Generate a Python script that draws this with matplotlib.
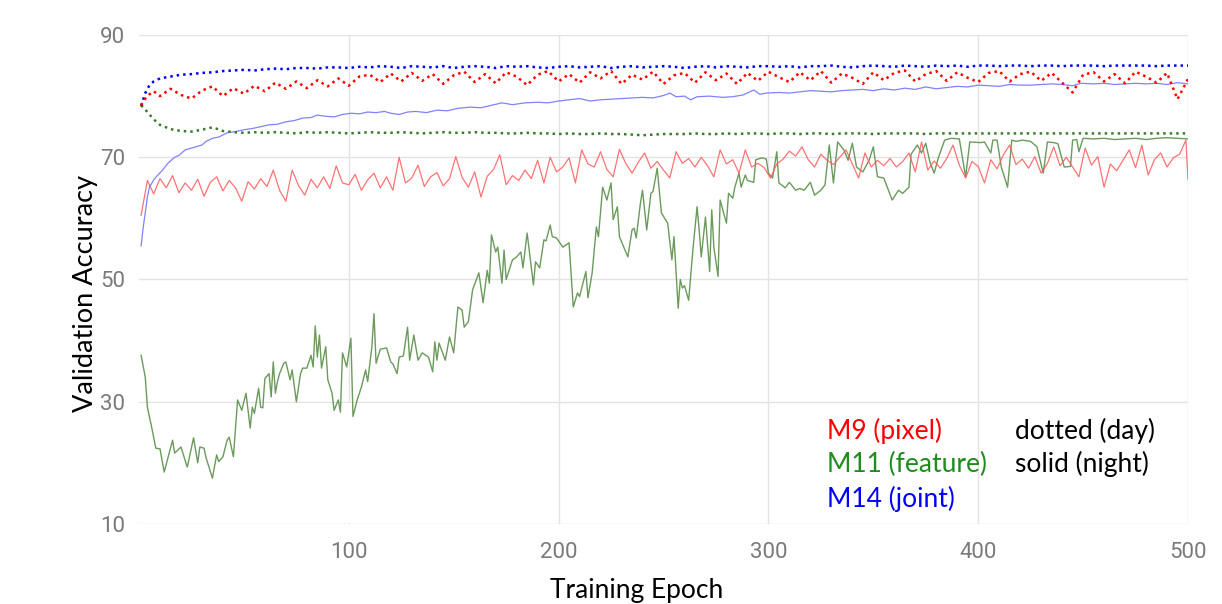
import matplotlib
matplotlib.use("Agg")
import matplotlib.pyplot as plt
from matplotlib.patches import Rectangle

# ---- data ----
DAY_EPOCHS = [1, 3, 5, 7] + list(range(10, 501, 5))

M9_DAY = [
    78.5, 79.6, 80.3, 80.8,
    80.0, 81.2, 80.2, 79.6, 80.9, 81.6, 80.0, 81.3, 80.4, 81.7,
    80.8, 82.2, 81.2, 82.4, 81.3, 82.6, 81.6, 82.9, 81.7, 83.2,
    83.5, 82.3, 83.7, 82.4, 83.8, 82.5, 83.6, 82.0, 83.4, 84.0,
    82.3, 83.6, 82.1, 83.9, 83.2, 81.8, 83.5, 84.1, 82.4, 83.6,
    82.2, 83.9, 82.9, 84.1, 82.0, 83.5, 82.7, 84.0, 82.0, 83.4,
    83.8, 82.2, 83.9, 82.6, 83.7, 82.0, 83.8, 82.5, 84.0, 83.1,
    82.3, 83.9, 82.6, 84.1, 82.2, 83.7, 83.0, 82.0, 83.9, 82.6,
    83.8, 84.2, 82.4, 83.6, 84.1, 82.5, 83.9, 83.0, 82.3, 83.8,
    84.1, 82.4, 83.6, 84.0, 82.5, 83.8, 82.2, 80.6, 83.5, 83.9,
    82.4, 83.6, 82.1, 84.0, 83.2, 82.2, 83.8, 79.5, 82.8,
]

M14_DAY = [
    78.4, 80.5, 81.8, 82.4,
    82.9, 83.2, 83.5, 83.6, 83.8, 83.9, 84.1, 84.2, 84.3, 84.2,
    84.4, 84.5, 84.4, 84.6, 84.6, 84.5, 84.7, 84.7, 84.6, 84.8,
    84.7, 84.9, 84.8, 84.6, 84.9, 84.8, 84.7, 84.9, 84.6, 84.8,
    84.9, 84.8, 84.6, 84.9, 84.8, 84.9, 84.7, 84.6, 84.8, 84.9,
    84.7, 84.8, 84.9, 84.6, 84.8, 84.9, 84.7, 84.8, 84.9, 84.8,
    84.6, 84.8, 84.9, 84.7, 84.9, 84.8, 84.7, 84.9, 84.9, 84.8,
    84.9, 84.7, 84.9, 84.9, 85.0, 84.8, 84.7, 84.9, 85.0, 84.9,
    84.8, 85.0, 84.9, 84.8, 85.0, 84.9, 85.0, 84.8, 85.0, 85.0,
    84.9, 85.0, 85.0, 84.9, 85.0, 85.0, 84.9, 85.0, 85.0, 85.0,
    84.9, 85.0, 85.0, 85.0, 85.0, 84.9, 85.0, 85.0, 85.0,
]

M11_DAY = [
    78.5, 77.8, 77.0, 76.2,
    75.3, 74.6, 74.3, 74.2, 74.5, 74.9, 74.3, 74.1, 74.0, 74.1,
    74.0, 74.1, 74.0, 73.9, 74.1, 74.0, 74.1, 74.0, 73.9, 74.0,
    74.1, 74.0, 74.0, 74.1, 74.0, 73.9, 74.0, 74.1, 74.0, 74.0,
    74.1, 74.0, 74.0, 73.9, 73.9, 74.0, 73.9, 73.9, 73.8, 73.9,
    73.8, 73.8, 73.9, 73.8, 73.8, 73.7, 73.6, 73.7, 73.8, 73.8,
    73.8, 73.9, 73.8, 73.8, 73.9, 73.8, 73.9, 73.9, 73.8, 73.9,
    73.9, 73.8, 73.9, 73.9, 73.8, 73.9, 73.9, 73.9, 73.8, 73.9,
    73.9, 73.9, 73.9, 73.8, 73.9, 73.9, 73.9, 73.9, 73.9, 73.9,
    73.9, 73.9, 73.9, 73.9, 73.9, 73.9, 73.9, 73.9, 73.9, 73.9,
    73.9, 73.9, 73.9, 73.9, 73.9, 73.9, 73.9, 73.9, 73.9,
]

M9_NIGHT_EPOCHS = list(range(1, 500, 3)) + [500]
M9_NIGHT = [
    60.5, 66.2, 64.0, 66.5, 65.0, 67.0, 64.2, 65.8, 64.6, 66.4,
    63.6, 65.9, 66.8, 64.5, 66.2, 65.0, 62.8, 66.0, 64.8, 66.5,
    65.2, 67.9, 64.6, 62.8, 67.9, 65.4, 63.8, 66.4, 65.0, 66.8,
    64.9, 68.6, 65.8, 65.5, 67.2, 64.6, 66.3, 67.4, 65.0, 66.8,
    64.6, 70.0, 65.8, 66.6, 68.7, 65.2, 66.8, 67.5, 65.3, 66.5,
    70.1, 66.7, 65.1, 67.6, 63.5, 66.9, 68.0, 70.4, 65.5, 67.0,
    66.2, 67.9, 66.5, 69.5, 65.8, 70.0, 67.6, 68.4, 69.9, 65.8,
    71.2, 68.9, 68.4, 70.9, 68.0, 66.8, 71.3, 69.0, 67.4, 69.2,
    70.7, 68.2, 69.3, 67.9, 66.6, 70.9, 69.0, 69.8, 68.4, 70.0,
    68.6, 66.8, 71.2, 68.9, 69.6, 67.4, 71.2, 68.4, 69.0, 68.3,
    66.6, 68.9, 69.7, 71.0, 70.2, 71.7, 69.6, 68.4, 70.5, 69.5,
    68.8, 70.0, 71.2, 68.9, 66.6, 70.7, 68.4, 69.5, 68.6, 69.8,
    68.4, 69.3, 70.7, 67.6, 72.5, 67.9, 69.4, 68.2, 69.8, 72.0,
    68.7, 66.6, 69.3, 68.5, 65.8, 69.6, 68.1, 70.4, 72.0, 68.8,
    69.7, 68.2, 70.1, 67.4, 69.0, 71.7, 68.6, 70.0, 68.4, 66.8,
    71.5, 68.7, 70.1, 65.1, 68.9, 67.8, 69.5, 71.2, 68.3, 72.0,
    67.1, 69.6, 70.7, 68.4, 69.9, 70.5, 72.8, 66.3,
]

M11_NIGHT_EPOCHS = [
    1, 3, 4, 6, 8, 10, 12, 16, 17, 20, 23, 26, 28, 29, 31, 32, 35, 37, 38, 40,
    42, 43, 45, 47, 49, 51, 53, 54, 55, 57, 58, 59, 60, 62, 63, 64, 65, 66, 67, 69,
    70, 72, 73, 75, 77, 78, 80, 82, 83, 84, 85, 86, 87, 89, 90, 92, 93, 95, 96, 97,
    99, 101, 102, 104, 106, 108, 109, 111, 112, 113, 115, 118, 120, 121, 123, 124, 126, 128, 129, 131,
    133, 135, 138, 140, 141, 142, 143, 146, 148, 150, 151, 152, 154, 155, 157, 159, 162, 164, 166, 167,
    168, 170, 171, 173, 174, 175, 178, 180, 182, 183, 185, 188, 189, 191, 193, 194, 196, 197, 199, 202,
    205, 207, 209, 210, 213, 214, 216, 218, 219, 221, 223, 225, 226, 228, 229, 233, 235, 236, 237, 239,
    240, 242, 244, 245, 247, 249, 252, 254, 255, 257, 258, 259, 260, 262, 264, 266, 267, 268, 270, 272,
    273, 274, 276, 277, 280, 281, 283, 284, 286, 287, 289, 290, 293, 294, 297, 299, 300, 302, 304, 305,
    308, 310, 313, 315, 317, 320, 322, 325, 327, 329, 331, 333, 336, 338, 340, 342, 345, 348, 350, 352,
    355, 359, 362, 364, 367, 368, 371, 373, 375, 377, 379, 381, 384, 387, 391, 394, 396, 401, 403, 406,
    407, 409, 411, 414, 416, 418, 421, 425, 428, 431, 433, 436, 438, 441, 444, 445, 447, 448, 450, 455,
    460, 465, 470, 475, 480, 485, 490, 495, 500,
]
M11_NIGHT = [
    37.6, 34.0, 29.1, 25.9, 22.4, 22.3, 18.5, 23.7, 21.6, 22.6, 19.3, 24.1, 20.0, 22.6, 22.4, 20.8, 17.5, 21.3, 20.2, 21.0,
    23.7, 24.2, 21.0, 30.3, 28.6, 31.4, 25.7, 29.1, 28.1, 32.2, 29.1, 29.0, 33.8, 34.6, 30.8, 36.5, 31.4, 33.3, 34.6, 36.3,
    36.5, 33.6, 35.2, 30.0, 34.6, 35.5, 35.5, 37.6, 35.7, 42.4, 37.3, 40.9, 35.5, 39.0, 33.6, 31.4, 28.6, 30.3, 28.3, 38.0,
    35.7, 40.4, 27.6, 30.3, 32.4, 35.2, 33.3, 39.0, 44.4, 36.3, 38.6, 38.8, 36.5, 36.2, 34.6, 37.3, 37.5, 42.2, 36.8, 40.9,
    36.8, 38.0, 37.3, 34.9, 39.8, 36.8, 39.6, 36.8, 40.6, 38.0, 41.7, 45.5, 45.0, 42.2, 43.1, 48.3, 51.1, 46.2, 51.5, 49.4,
    57.3, 54.5, 55.3, 49.4, 54.8, 50.0, 53.2, 53.7, 54.5, 51.9, 57.6, 49.1, 52.9, 51.9, 56.5, 56.3, 58.9, 57.0, 56.8, 55.3,
    56.0, 45.5, 47.8, 47.2, 51.3, 47.0, 51.1, 58.6, 57.0, 65.1, 63.0, 65.8, 59.8, 61.9, 57.0, 53.7, 58.1, 58.4, 56.8, 62.5,
    64.6, 58.1, 64.1, 64.4, 68.2, 60.9, 59.2, 53.2, 57.0, 45.3, 50.0, 48.6, 49.0, 46.6, 54.8, 61.9, 58.1, 53.7, 60.2, 51.3,
    61.4, 55.3, 50.5, 63.0, 59.2, 64.1, 63.3, 65.1, 67.4, 65.1, 67.1, 66.2, 65.9, 69.6, 69.9, 69.7, 67.4, 66.6, 70.9, 65.8,
    65.0, 65.9, 64.6, 64.9, 64.6, 65.9, 63.8, 64.6, 65.5, 72.0, 65.8, 72.5, 71.2, 69.5, 72.3, 68.4, 67.6, 69.5, 71.7, 66.8,
    66.6, 63.0, 64.6, 64.1, 65.1, 70.5, 72.0, 70.7, 72.3, 69.2, 67.4, 69.9, 72.8, 73.1, 73.0, 66.8, 72.5, 72.4, 72.5, 70.7,
    72.8, 72.8, 68.4, 65.1, 72.8, 72.6, 72.8, 72.6, 71.7, 67.4, 72.5, 72.4, 72.2, 68.4, 68.5, 72.8, 72.9, 70.9, 73.1, 73.0,
    73.1, 72.9, 73.0, 73.1, 72.9, 73.1, 73.2, 73.1, 73.0,
]

M14_NIGHT_EPOCHS = [
    1, 2, 3, 4, 5, 7, 9, 11, 14, 17, 19, 22, 25, 28, 30, 32, 35, 38, 42, 46,
    50, 54, 58, 62, 66, 70, 74, 78, 82, 85, 89, 93, 97, 101, 105, 109, 113, 117, 120, 124,
    128, 132, 137, 142, 147, 152, 158, 163, 168, 173, 178, 184, 190, 195, 200, 205, 210, 215, 220, 225,
    230, 235, 240, 245, 250, 253, 256, 260, 263, 266, 272, 278, 283, 288, 293, 296, 299, 305, 310, 315,
    320, 325, 330, 335, 340, 345, 350, 355, 360, 365, 370, 375, 380, 385, 390, 395, 400, 405, 410, 415,
    420, 425, 430, 435, 440, 445, 449, 455, 460, 465, 470, 475, 480, 485, 490, 495, 500,
]
M14_NIGHT = [
    55.5, 58.5, 61.0, 63.5, 65.1, 66.3, 67.1, 67.8, 69.1, 70.0, 70.3, 71.2, 71.5, 71.8, 72.0, 72.6, 73.1, 73.3, 74.0, 74.2,
    74.5, 74.7, 75.0, 75.3, 75.4, 75.8, 76.0, 76.4, 76.5, 76.9, 76.7, 76.6, 77.0, 77.2, 77.1, 77.4, 77.3, 77.5, 77.2, 77.0,
    77.4, 77.5, 77.3, 77.7, 77.6, 78.0, 78.2, 78.1, 78.5, 78.9, 78.6, 78.9, 79.0, 78.9, 79.2, 79.4, 79.6, 79.2, 79.4, 79.5,
    79.6, 79.7, 79.8, 79.7, 80.1, 80.5, 79.9, 80.0, 79.4, 79.9, 80.0, 79.8, 79.9, 80.2, 81.0, 80.3, 80.5, 80.6, 80.5, 80.7,
    80.9, 80.8, 80.7, 80.9, 81.0, 81.1, 80.9, 81.2, 81.0, 81.3, 81.1, 81.5, 81.2, 81.4, 81.6, 81.5, 81.8, 81.7, 81.6, 81.9,
    81.8, 81.8, 81.9, 82.0, 81.9, 81.7, 82.1, 82.0, 82.1, 81.9, 82.0, 82.1, 82.0, 82.1, 81.9, 82.2, 82.0,
]

X_TICKS = [100, 200, 300, 400, 500]
Y_TICKS = [10, 30, 50, 70, 90]

MODEL_LABELS = ["M9 (pixel)", "M11 (feature)", "M14 (joint)"]
MODEL_COLORS = ["#ff0000", "#1e8c1e", "#0000ff"]
STYLE_LABELS = ["dotted (day)", "solid (night)"]


def main() -> None:
    plt.rcParams["font.family"] = ["Lato", "DejaVu Sans"]
    fig = plt.figure(figsize=(12.22, 6.04), dpi=100)
    ax = fig.add_axes([139 / 1222, 1 - 524 / 604, 1049 / 1222, 489 / 604])

    dotted = (0, (1, 1.6))
    # night runs (solid, thin, faded)
    ax.plot(M11_NIGHT_EPOCHS, M11_NIGHT, color="#5a8f4a", lw=1.0, alpha=0.9, zorder=2)
    ax.plot(M9_NIGHT_EPOCHS, M9_NIGHT, color="#ff5a5a", lw=0.9, alpha=0.85, zorder=2)
    ax.plot(M14_NIGHT_EPOCHS, M14_NIGHT, color="#6b6bff", lw=0.9, alpha=0.85, zorder=2)
    # day runs (dotted)
    ax.plot(DAY_EPOCHS, M11_DAY, color="#3b7a2a", lw=1.8, linestyle=dotted, zorder=2)
    ax.plot(DAY_EPOCHS, M14_DAY, color="#0000ff", lw=1.8, linestyle=dotted, zorder=2)
    ax.plot(DAY_EPOCHS, M9_DAY, color="#ff0000", lw=1.8, linestyle=dotted, zorder=2)

    ax.set_xlim(0, 500)
    ax.set_ylim(10, 90)
    ax.set_xticks(X_TICKS)
    ax.set_yticks(Y_TICKS)
    ax.grid(True, color="#e3e3e3", lw=1.0, zorder=0)
    ax.set_axisbelow(True)
    for spine in ax.spines.values():
        spine.set_visible(False)
    ax.tick_params(length=0, labelsize=16, labelcolor="#7a7a7a")
    ax.tick_params(axis="x", pad=13)
    ax.tick_params(axis="y", pad=10)
    for lab in ax.get_xticklabels() + ax.get_yticklabels():
        lab.set_fontfamily("Roboto")

    fig.text(86 / 1222, 1 - 293 / 604, "Validation Accuracy", rotation=90,
             ha="center", va="center", fontsize=19.5)
    fig.text(637 / 1222, 1 - 598 / 604, "Training Epoch",
             ha="center", va="baseline", fontsize=19)

    # legend box in the lower right, inset so the outer grid lines stay visible
    box_left = (805 - 139) / 1049
    ax.add_patch(Rectangle((box_left, 10.2), 499.6 - box_left * 500, 19.6,
                           transform=ax.transData, facecolor="white",
                           edgecolor="none", zorder=1))
    rows = [1 - 439 / 604, 1 - 472 / 604, 1 - 507 / 604]
    for label, color, y in zip(MODEL_LABELS, MODEL_COLORS, rows):
        fig.text(827 / 1222, y, label, color=color, fontsize=19, va="baseline", zorder=4)
    for label, y in zip(STYLE_LABELS, rows):
        fig.text(1015 / 1222, y, label, color="black", fontsize=19, va="baseline", zorder=4)

    fig.savefig("out.png", dpi=100)
    plt.close(fig)


if __name__ == "__main__":
    main()
